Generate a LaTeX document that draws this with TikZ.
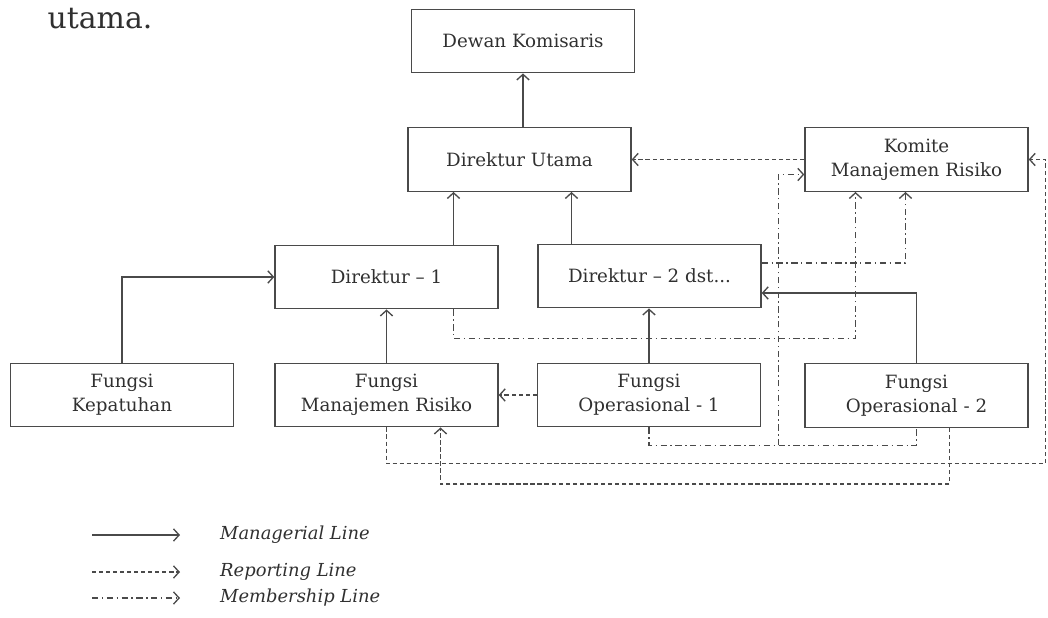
\documentclass[tikz,border=0pt]{standalone}
\usepackage{fontspec}
\setmainfont{DejaVu Serif}
\usepackage{tikz}
\usetikzlibrary{calc}
\usetikzlibrary{arrows.meta}
\definecolor{linegray}{HTML}{4A4A4A}
\definecolor{textgray}{HTML}{303030}
\tikzset{
    unit/.style = {rectangle,draw=linegray,line width=0.8pt,minimum width=4.46cm,minimum height=1.27cm,
                   align=center,text=textgray,font=\fontsize{10.4}{13.6}\selectfont,inner sep=1pt},
    tip/.style = {-{Straight Barb[length=3.2pt,width=7pt]}},
    mline/.style = {tip,draw=linegray,line width=0.75pt},
    rline/.style = {tip,draw=linegray,line width=0.75pt,dash pattern=on 2.4pt off 1.6pt},
    bline/.style = {tip,draw=linegray,line width=0.75pt,dash pattern=on 3.6pt off 2pt on 0.8pt off 2pt},
    legend/.style = {anchor=west,text=textgray,font=\fontsize{10.2}{12}\itshape}}

\begin{document}
\begin{tikzpicture}[x=0.02cm,y=-0.02cm]
    \useasboundingbox (0,0) rectangle (1048,618);
    \path (100,19) node[text=textgray,font=\fontsize{17}{20}\selectfont] (lead) {utama.};
    \path (523,41) node[unit] (DK) {Dewan Komisaris}
     (519.5,159.5) node[unit] (DU) {Direktur Utama}
     (916.5,159.5) node[unit] (KMR) {Komite\\Manajemen Risiko}
     (386.5,277) node[unit] (D1) {Direktur -- 1}
     (649.5,276) node[unit] (D2) {Direktur -- 2 dst...}
     (122,395) node[unit] (FK) {Fungsi\\Kepatuhan}
     (386.5,395) node[unit] (FMR) {Fungsi\\Manajemen Risiko}
     (649,395) node[unit] (FO1) {Fungsi\\Operasional - 1}
     (916.5,395.5) node[unit] (FO2) {Fungsi\\Operasional - 2};
    % managerial
    \draw[mline] (DK.south |- DU.north) -- (DK.south);
    \draw[mline] ($(D1.north)+(67,0)$) coordinate (d1top) -- (d1top |- DU.south);
    \draw[mline] ($(D2.north)+(-78,0)$) coordinate (d2top) -- (d2top |- DU.south);
    \draw[mline] (FK.north) |- (D1.west);
    \draw[mline] (FMR.north) -- (D1.south);
    \draw[mline] (FO1.north) -- (FO1.north |- D2.south);
    \draw[mline] (FO2.north) |- ($(D2.east)+(0,17)$);
    % reporting
    \draw[rline] (KMR.west) -- (KMR.west -| DU.east);
    \draw[rline] (FO1.west) -- (FMR.east);
    \draw[rline] (FMR.south) -- ++(0,36) -| ($(KMR.east)+(17,0)$) -- (KMR.east);
    \draw[rline] ($(FO2.south)+(33,0)$) -- ++(0,56) -| ($(FMR.south)+(54,0)$);
    % membership
    \draw[bline] ($(D1.south)+(67,0)$) -- ++(0,29) -| ($(KMR.south)+(-61,0)$);
    \draw[bline] ($(D2.east)+(0,-13)$) -| ($(KMR.south)+(-11,0)$);
    \draw[bline,-] (FO1.south) -- ++(0,18) coordinate (fobot) -| (FO2.south);
    \coordinate (kin) at ($(KMR.west)+(-26,15)$);
    \draw[bline] (kin |- fobot) -- (kin) -- (kin -| KMR.west);
    % legend
    \node[legend] (lgM) at (214,535) {Managerial Line};
    \node[legend] (lgR) at (214,572) {Reporting Line};
    \node[legend] (lgB) at (214,598) {Membership Line};
    \draw[mline] ($(lgM.west)+(-122,0)$) -- ($(lgM.west)+(-34,0)$);
    \draw[rline] ($(lgR.west)+(-122,0)$) -- ($(lgR.west)+(-34,0)$);
    \draw[bline] ($(lgB.west)+(-122,0)$) -- ($(lgB.west)+(-34,0)$);
\end{tikzpicture}
\end{document}
